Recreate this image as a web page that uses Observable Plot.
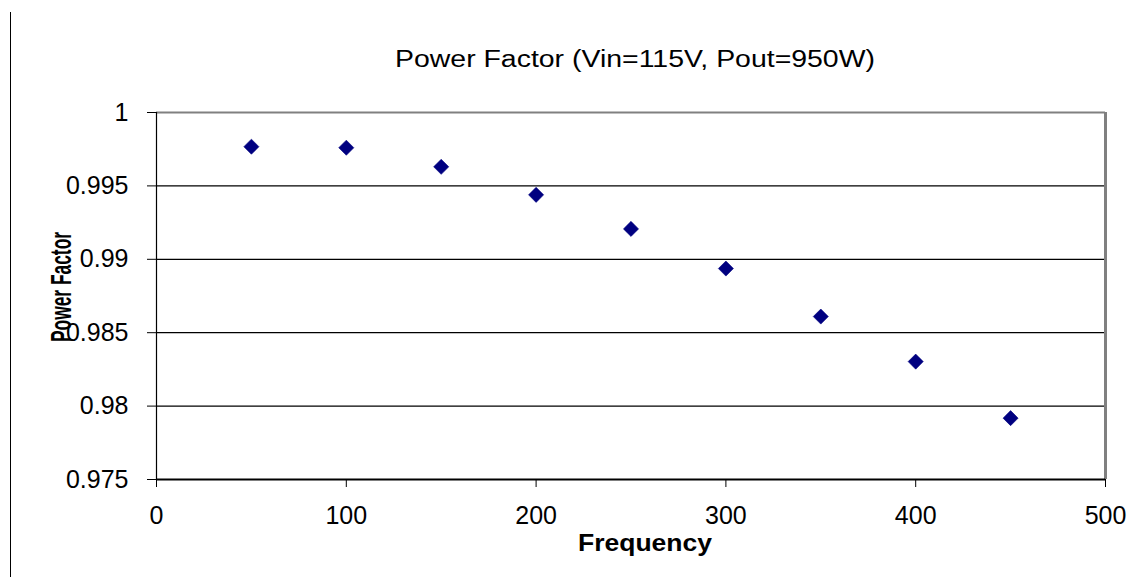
<!DOCTYPE html>
<html>
<head>
<meta charset="utf-8">
<script src="https://cdn.jsdelivr.net/npm/d3@7"></script>
<script src="https://cdn.jsdelivr.net/npm/@observablehq/plot@0.6"></script>
<style>
  html, body { margin: 0; padding: 0; background: #fff; }
  #wrap { position: relative; width: 1142px; height: 585px; overflow: hidden; }
  #edge { position: absolute; left: 10px; top: 12px; height: 565px; border-left: 1px solid #000; }
</style>
</head>
<body>
<div id="wrap"><div id="edge"></div></div>
<script>
const chartTitle = "Power Factor (Vin=115V, Pout=950W)";
const xLabel = "Frequency";
const yLabel = "Power Factor";
const frequency = [50, 100, 150, 200, 250, 300, 350, 400, 450];
const powerFactor = [0.99767, 0.99760, 0.99630, 0.99439, 0.99207, 0.98937, 0.98610, 0.98303, 0.97918];
const xTicks = [0, 100, 200, 300, 400, 500];
const yTicks = [0.975, 0.98, 0.985, 0.99, 0.995, 1];

const data = frequency.map((f, i) => ({frequency: f, pf: powerFactor[i]}));
const yMin = yTicks[0], yMax = yTicks[yTicks.length - 1];
const xMax = xTicks[xTicks.length - 1];

const chart = Plot.plot({
  width: 1142,
  height: 585,
  marginLeft: 156,
  marginRight: 37,
  marginTop: 112,
  marginBottom: 106,
  style: {fontFamily: "'Liberation Sans', Arial, sans-serif", fontSize: "25px", color: "#000", background: "#fff"},
  x: {domain: [0, xMax], ticks: xTicks, label: null},
  y: {domain: [yMin, yMax], ticks: yTicks, label: null},
  marks: [
    Plot.ruleY(yTicks.filter(t => t > yMin && t < yMax), {stroke: "#000", strokeWidth: 1.2}),
    Plot.ruleY([yMax], {stroke: "#808080", strokeWidth: 2}),
    Plot.ruleX([xMax], {stroke: "#808080", strokeWidth: 3}),
    Plot.ruleX([0], {stroke: "#000", strokeWidth: 1.2}),
    Plot.ruleY([yMin], {stroke: "#000", strokeWidth: 2.2}),
    Plot.axisY({ticks: yTicks, tickSize: 9, tickPadding: 19, tickFormat: d => String(+d.toFixed(3)), fontSize: 25, stroke: "#000"}),
    Plot.axisX({ticks: xTicks, tickSize: 8, tickPadding: 19, tickFormat: d => String(d), fontSize: 25, stroke: "#000"}),
    Plot.dot(data, {x: "frequency", y: "pf", symbol: "diamond2", r: 6.8, fill: "#000080", stroke: "#000080", strokeWidth: 0.6}),
    Plot.text([chartTitle], {frameAnchor: "top", dx: 4, dy: -62, fontSize: 23, fill: "#000"}),
    Plot.text([xLabel], {frameAnchor: "bottom", dx: 14, dy: 71, fontSize: 23, fontWeight: "bold", fill: "#000"}),
    Plot.text([yLabel], {frameAnchor: "left", dx: -95, dy: 46, rotate: -90, textAnchor: "start", fontSize: 30, fontWeight: "bold", fill: "#000"})
  ]
});

document.getElementById("wrap").appendChild(chart);

const lengths = {[chartTitle]: 480, [xLabel]: 134, [yLabel]: 110};
d3.select(chart).selectAll("text").each(function() {
  const t = this.textContent;
  if (lengths[t] !== undefined) {
    this.setAttribute("textLength", lengths[t]);
    this.setAttribute("lengthAdjust", "spacingAndGlyphs");
  }
});
</script>
</body>
</html>
